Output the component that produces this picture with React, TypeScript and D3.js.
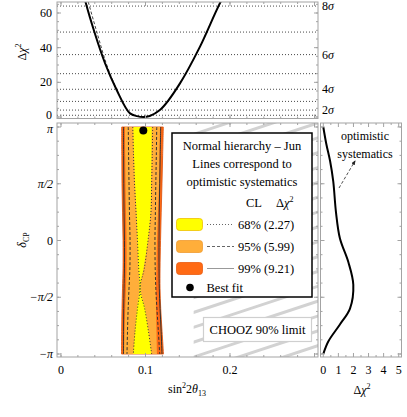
import React from 'react'
import * as d3 from 'd3'

// top panel: delta chi^2 vs sin^2 2theta13
const topSin = [0.026, 0.0284, 0.0402, 0.0521, 0.0659, 0.0817, 0.09, 0.0974, 0.105, 0.117, 0.1408, 0.1645, 0.19, 0.195]
const topChi = [72, 67.5, 48, 31, 15.6, 2.1, 0.5, 0, 0.6, 4, 19.4, 40.6, 67.5, 72]
const topOptSin = [0.029, 0.0316, 0.043, 0.0535, 0.0662]
const topOptChi = [72, 67.5, 48, 31, 15.6]
const sigmaLevels = [1, 4, 9, 16, 25, 36, 49, 64]
const sigmaLabels = [[4, '2'], [16, '4'], [36, '6'], [64, '8']]

// main panel contours (delta in units of pi)
const deltaGrid = [1, 0.75, 0.5, 0.25, 0, -0.25, -0.42, -0.6, -0.8, -1]
const cl68Left = [0.0856, 0.0864, 0.0876, 0.0893, 0.0905, 0.0917, 0.0929, 0.0899, 0.0876, 0.0856]
const cl68Right = [0.1073, 0.1071, 0.1065, 0.1059, 0.103, 0.0976, 0.0941, 0.0994, 0.1036, 0.1071]
const cl95Left = [0.0757, 0.076, 0.0763, 0.0769, 0.0775, 0.0775, 0.0769, 0.076, 0.0752, 0.0746]
const cl95Right = [0.1172, 0.1166, 0.116, 0.1148, 0.1136, 0.113, 0.1124, 0.1124, 0.113, 0.1136]
const cl99Left = [0.0718, 0.072, 0.0722, 0.0728, 0.0734, 0.0734, 0.0728, 0.0722, 0.0718, 0.0716]
const cl99Right = [0.1211, 0.1203, 0.1195, 0.1186, 0.1178, 0.1172, 0.1172, 0.118, 0.1196, 0.1213]
// optimistic systematics lines
const opt68Left = [0.0849, 0.0858, 0.087, 0.0888, 0.0905, 0.092, 0.0935, 0.0905, 0.0876, 0.0856]
const opt68Right = [0.1085, 0.108, 0.1073, 0.1065, 0.103, 0.0985, 0.0935, 0.099, 0.1035, 0.1073]
const opt95Left = [0.0796, 0.08, 0.0805, 0.081, 0.0817, 0.0815, 0.0805, 0.0795, 0.0787, 0.0781]
const opt95Right = [0.1133, 0.1128, 0.1122, 0.1117, 0.1112, 0.1115, 0.1122, 0.1135, 0.1152, 0.1168]
const opt99Left = [0.074, 0.0741, 0.0743, 0.0746, 0.0751, 0.0751, 0.0746, 0.0742, 0.074, 0.074]
const opt99Right = [0.118, 0.1174, 0.1168, 0.1163, 0.116, 0.116, 0.1163, 0.1172, 0.1185, 0.1195]
const bestFit = { s: 0.0974, d: 0.97 }
const choozLimit = 0.157

// right panel: delta chi^2 vs delta
const sideDelta = [1, 0.85, 0.7, 0.52, 0.25, 0.02, -0.19, -0.39, -0.6, -0.74, -0.89, -1]
const sideChi = [0, 0.2, 0.45, 0.66, 0.84, 1.1, 1.66, 1.99, 1.77, 1.1, 0.33, 0]

const xTicks = [0, 0.1, 0.2]
const piTicks = [[1, 'π'], [0.5, 'π/2'], [0, '0'], [-0.5, '−π/2'], [-1, '−π']]
const chiTicks = [0, 20, 40, 60]
const sideTicks = [0, 1, 2, 3, 4, 5]

const legendRows = [
  { label: '68% (2.27)', color: '#ffff00', edge: '#f0c000', dash: '1,2' },
  { label: '95% (5.99)', color: '#ffae3a', edge: '#f09a30', dash: '3,2' },
  { label: '99% (9.21)', color: '#ff6a14', edge: '#e85a10', dash: null },
]

const FONT = 'Liberation Serif, Times New Roman, serif'
const FRAME = '#a3a3a3'

export default function App() {
  // panel frames
  const L = 57, R = 318, T1 = 2, B1 = 118.5, T2 = 123, B2 = 357, RL = 320.5, RR = 401.5

  const x = d3.scaleLinear().domain([0, 0.3]).range([61, 314.5])
  const yTop = d3.scaleLinear().domain([0, 60]).range([117, 13])
  const yD = d3.scaleLinear().domain([-1, 1]).range([354, 127])
  const xS = d3.scaleLinear().domain([0, 5]).range([323.3, 398.7])

  const topLine = d3.line<number>().x((d, i) => x(topSin[i])).y(d => yTop(d)).curve(d3.curveMonotoneX)
  const optTopLine = d3.line<number>().x((d, i) => x(topOptSin[i])).y(d => yTop(d)).curve(d3.curveMonotoneX)

  const band = (left: number[], right: number[]) =>
    d3.area<number>().y(d => yD(d)).x0((d, i) => x(left[i])).x1((d, i) => x(right[i])).curve(d3.curveCatmullRom)(deltaGrid) || ''
  const edge = (vals: number[]) =>
    d3.line<number>().y(d => yD(d)).x((d, i) => x(vals[i])).curve(d3.curveCatmullRom)(deltaGrid) || ''

  const sideLine = d3.line<number>().x((d, i) => xS(sideChi[i])).y(d => yD(d)).curve(d3.curveCatmullRom)

  // tick helpers
  const hTicks = (scale: any, vals: number[], y0: number, y1: number, len: number) =>
    vals.map((v, i) => (
      <g key={i}>
        <line x1={scale(v)} x2={scale(v)} y1={y0} y2={y0 - len} stroke={FRAME} />
        <line x1={scale(v)} x2={scale(v)} y1={y1} y2={y1 + len} stroke={FRAME} />
      </g>
    ))
  const vTicks = (scale: any, vals: number[], x0: number, x1: number, len: number) =>
    vals.map((v, i) => (
      <g key={i}>
        <line y1={scale(v)} y2={scale(v)} x1={x0} x2={x0 + len} stroke={FRAME} />
        <line y1={scale(v)} y2={scale(v)} x1={x1} x2={x1 - len} stroke={FRAME} />
      </g>
    ))

  const xMajor = d3.range(0, 0.301, 0.1)
  const xMinor = d3.range(0, 0.301, 0.02)
  const dMajor = d3.range(-1, 1.01, 0.5)
  const dMinor = d3.range(-1, 1.01, 0.125)

  // hatch lines for CHOOZ excluded region (each passes through the bottom edge, spans wide)
  const slope = 0.33
  const hatch = d3.range(-20, 8).map(k => {
    const xc = x(choozLimit) + k * 45
    return { x1: xc - 100, y1: B2 + 100 * slope, x2: xc + 900, y2: B2 - 900 * slope }
  })

  return (
    <svg width={407} height={417} style={{ position: 'absolute', left: 0, top: 0, fontFamily: FONT }}>
      <defs>
        <clipPath id="topClip"><rect x={L} y={T1} width={R - L} height={B1 - T1} /></clipPath>
        <clipPath id="mainClip"><rect x={L} y={T2} width={R - L} height={B2 - T2} /></clipPath>
        <clipPath id="choozClip"><rect x={x(choozLimit)} y={T2} width={R - x(choozLimit)} height={B2 - T2} /></clipPath>
        <marker id="arr" viewBox="0 0 10 10" refX="8" refY="5" markerWidth="6" markerHeight="6" orient="auto">
          <path d="M0,1 L10,5 L0,9 Z" fill="#222" />
        </marker>
      </defs>
      <rect width={407} height={417} fill="#fff" />

      {/* ---------- top panel ---------- */}
      <g clipPath="url(#topClip)">
        {sigmaLevels.map(s => (
          <line key={s} x1={L} x2={R} y1={yTop(s)} y2={yTop(s)} stroke="#333" strokeWidth={0.9} strokeDasharray="1,2" />
        ))}
        <path d={optTopLine(topOptChi) || ''} fill="none" stroke="#444" strokeWidth={1} strokeDasharray="3,2" />
        <path d={topLine(topChi) || ''} fill="none" stroke="#000" strokeWidth={2} />
      </g>
      <rect x={L} y={T1} width={R - L} height={B1 - T1} fill="none" stroke={FRAME} />
      {hTicks(x, xMajor, B1, T1, 4)}
      {hTicks(x, xMinor, B1, T1, 2)}
      {vTicks(yTop, d3.range(0, 61, 20), L, R, 4)}
      {vTicks(yTop, d3.range(0, 66, 5), L, R, 2)}
      {chiTicks.map(v => (
        <text key={v} x={52} y={yTop(v) + (v === 0 ? 2 : 4)} fontSize={12} textAnchor="end">{v}</text>
      ))}
      {sigmaLabels.map(([v, n]) => (
        <text key={v as number} x={322} y={yTop(v as number) + 4} fontSize={12}>{n}<tspan fontStyle="italic">σ</tspan></text>
      ))}
      <text transform="translate(26,52) rotate(-90)" fontSize={12} textAnchor="middle">
        Δ<tspan fontStyle="italic">χ</tspan><tspan fontSize={8} dy={-5}>2</tspan>
      </text>

      {/* ---------- main panel ---------- */}
      <g clipPath="url(#choozClip)">
        {hatch.map((h, i) => (
          <line key={i} {...h} stroke="#d2d2d2" strokeWidth={3} />
        ))}
      </g>
      <g clipPath="url(#mainClip)">
        <path d={band(cl99Left, cl99Right)} fill="#ff6a14" stroke="#d84c08" strokeWidth={0.8} />
        <path d={band(cl95Left, cl95Right)} fill="#ffae3a" />
        <path d={band(cl68Left, cl68Right)} fill="#ffff00" />
        {[opt68Left, opt68Right].map((v, i) => (
          <path key={'a' + i} d={edge(v)} fill="none" stroke="#333" strokeWidth={1} strokeDasharray="1,2" />
        ))}
        {[opt95Left, opt95Right].map((v, i) => (
          <path key={'b' + i} d={edge(v)} fill="none" stroke="#333" strokeWidth={1} strokeDasharray="3,2" />
        ))}
        {[opt99Left, opt99Right].map((v, i) => (
          <path key={'c' + i} d={edge(v)} fill="none" stroke="#333" strokeWidth={1} />
        ))}
        <circle cx={x(bestFit.s)} cy={yD(bestFit.d)} r={4} fill="#000" />
      </g>
      <rect x={L} y={T2} width={R - L} height={B2 - T2} fill="none" stroke={FRAME} />
      {hTicks(x, xMajor, B2, T2, 4)}
      {hTicks(x, xMinor, B2, T2, 2)}
      {vTicks(yD, dMajor, L, R, 4)}
      {vTicks(yD, dMinor, L, R, 2)}
      {xTicks.map(v => (
        <text key={v} x={x(v)} y={374} fontSize={12} textAnchor="middle">{v}</text>
      ))}
      {piTicks.map(([v, t]) => (
        <text key={v as number} x={53} y={yD(v as number) + (v === 1 ? 6 : 4)} fontSize={12} textAnchor="end" fontStyle={t === '0' ? 'normal' : 'italic'}>
          {t}
        </text>
      ))}
      <text transform="translate(26,240) rotate(-90)" fontSize={12} textAnchor="middle">
        <tspan fontStyle="italic">δ</tspan><tspan fontSize={8} dy={3}>CP</tspan>
      </text>
      <text x={187} y={393} fontSize={12} textAnchor="middle">
        sin<tspan fontSize={8} dy={-5}>2</tspan><tspan dy={5}>2</tspan><tspan fontStyle="italic">θ</tspan><tspan fontSize={8} dy={3}>13</tspan>
      </text>

      {/* legend */}
      <rect x={172} y={133} width={140} height={164} fill="#fff" stroke="#000" strokeWidth={1.5} />
      <g fontSize={12.5} textAnchor="middle">
        <text x={242} y={150}>Normal hierarchy – Jun</text>
        <text x={242} y={168}>Lines correspond to</text>
        <text x={242} y={186}>optimistic systematics</text>
      </g>
      <text x={246} y={207} fontSize={12.5}>CL</text>
      <text x={276} y={207} fontSize={12.5}>
        Δ<tspan fontStyle="italic">χ</tspan><tspan fontSize={8} dy={-5}>2</tspan>
      </text>
      {legendRows.map((r, i) => {
        const yy = 224.5 + i * 22
        return (
          <g key={r.label}>
            <rect x={176.5} y={yy - 6} width={26} height={12} rx={3} fill={r.color} stroke={r.edge} strokeWidth={0.8} />
            <line x1={207} x2={234} y1={yy} y2={yy} stroke={r.dash ? '#666' : '#999'} strokeWidth={1} strokeDasharray={r.dash || undefined} />
            <text x={238} y={yy + 4} fontSize={12.5}>{r.label}</text>
          </g>
        )
      })}
      <circle cx={190} cy={287.5} r={3.8} fill="#000" />
      <text x={206.5} y={291.5} fontSize={12.5}>Best fit</text>

      {/* CHOOZ label */}
      <rect x={203.5} y={317.5} width={108} height={24} fill="#fff" stroke="#cfcfcf" strokeWidth={1.2} />
      <text x={257.5} y={334} fontSize={12.5} textAnchor="middle">CHOOZ 90% limit</text>

      {/* ---------- right panel ---------- */}
      <path d={sideLine(sideDelta) || ''} fill="none" stroke="#000" strokeWidth={2} />
      <rect x={RL} y={T2} width={RR - RL} height={B2 - T2} fill="none" stroke={FRAME} />
      {hTicks(xS, sideTicks, B2, T2, 4)}
      {hTicks(xS, d3.range(0.5, 5, 1), B2, T2, 2)}
      {vTicks(yD, dMajor, RL, RR, 4)}
      {vTicks(yD, dMinor, RL, RR, 2)}
      {sideTicks.map(v => (
        <text key={v} x={xS(v)} y={374} fontSize={12} textAnchor="middle">{v}</text>
      ))}
      <text x={362} y={394} fontSize={12} textAnchor="middle">
        Δ<tspan fontStyle="italic">χ</tspan><tspan fontSize={8} dy={-5}>2</tspan>
      </text>
      <text x={365} y={140} fontSize={12} textAnchor="middle">optimistic</text>
      <text x={365} y={158} fontSize={12} textAnchor="middle">systematics</text>
      <line x1={339} y1={188} x2={355} y2={161} stroke="#222" strokeWidth={0.8} strokeDasharray="3,2" markerEnd="url(#arr)" />
    </svg>
  )
}
